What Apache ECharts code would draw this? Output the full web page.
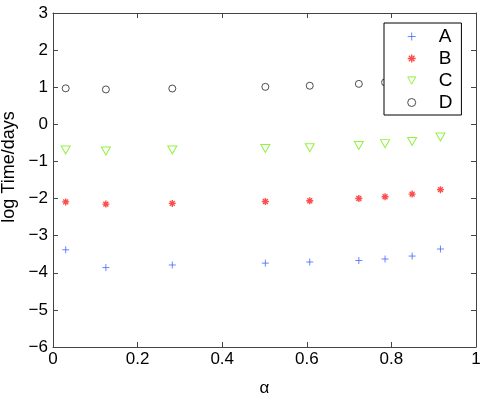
<!DOCTYPE html>
<html>
<head>
<meta charset="utf-8">
<script src="https://cdn.jsdelivr.net/npm/echarts@6/dist/echarts.min.js"></script>
<style>html,body{margin:0;padding:0;background:#fff;}#c{width:485px;height:393px;}</style>
</head>
<body>
<div id="c"></div>
<script>
const alpha = [0.030, 0.125, 0.282, 0.502, 0.607, 0.723, 0.785, 0.849, 0.916];
const seriesA = [-3.38, -3.86, -3.79, -3.74, -3.71, -3.67, -3.63, -3.55, -3.36];
const seriesB = [-2.09, -2.15, -2.13, -2.08, -2.06, -2.00, -1.95, -1.88, -1.76];
const seriesC = [-0.69, -0.72, -0.69, -0.65, -0.63, -0.57, -0.52, -0.46, -0.34];
const seriesD = [0.97, 0.94, 0.965, 1.01, 1.04, 1.09, 1.13, 1.17, 1.22];
const seriesNames = ['A', 'B', 'C', 'D'];
const xTicks = [0, 0.2, 0.4, 0.6, 0.8, 1];
const yTicks = [-6, -5, -4, -3, -2, -1, 0, 1, 2, 3];

const FONT = '"Liberation Sans", Arial, Helvetica, sans-serif';
const plusPath = 'path://M5,0 L5,10 M0,5 L10,5';
const starPath = 'path://M5,0 L5,10 M0,5 L10,5 M1.5,1.5 L8.5,8.5 M8.5,1.5 L1.5,8.5';
const triDownPath = 'path://M0,0 L10,0 L5,9 Z';

function pts(vals){ return alpha.map((x,i)=>[x, vals[i]]); }

const styles = [
  {symbol:plusPath, size:7, item:{color:'rgba(0,0,0,0)', borderColor:'#4466ff', borderWidth:1}},
  {symbol:starPath, size:7, item:{color:'rgba(0,0,0,0)', borderColor:'#ff2020', borderWidth:1.4}},
  {symbol:triDownPath, size:[9,8], item:{color:'#fff', borderColor:'#77ee11', borderWidth:1}},
  {symbol:'circle', size:7, item:{color:'#fff', borderColor:'#222', borderWidth:1}}
];
const values = [seriesA, seriesB, seriesC, seriesD];

const chart = echarts.init(document.getElementById('c'), null, {renderer:'canvas'});
const axisColor = '#444';
const fmtX = v => (v===0||v===1) ? String(v) : v.toFixed(1);
const fmtY = v => v < 0 ? '\u2212' + Math.abs(v) : String(v);

chart.setOption({
  animation:false,
  backgroundColor:'#fff',
  grid:{left:53, right:9, top:13, bottom:46, show:false, containLabel:false, outerBoundsMode:'none'},
  xAxis:[{
    type:'value', min:0, max:1, interval:0.2,
    name:'\u03b1', nameLocation:'middle', nameGap:33,
    nameTextStyle:{fontFamily:FONT, fontSize:17, color:'#000'},
    axisLine:{show:true, onZero:false, lineStyle:{color:axisColor, width:1}},
    axisTick:{show:true, inside:true, length:5, lineStyle:{color:axisColor}},
    axisLabel:{fontFamily:FONT, fontSize:17, color:'#000', margin:4, formatter:fmtX},
    splitLine:{show:false}
  },{
    type:'value', min:0, max:1, interval:0.2, position:'top',
    axisLine:{show:true, onZero:false, lineStyle:{color:axisColor, width:1}},
    axisTick:{show:true, inside:true, length:5, lineStyle:{color:axisColor}},
    axisLabel:{show:false}, splitLine:{show:false}
  }],
  yAxis:[{
    type:'value', min:-6, max:3, interval:1,
    name:'log Time/days', nameLocation:'middle', nameGap:22, nameRotate:90,
    nameTextStyle:{fontFamily:FONT, fontSize:18, color:'#000', padding:[0,0,0,26]},
    axisLine:{show:true, onZero:false, lineStyle:{color:axisColor, width:1}},
    axisTick:{show:true, inside:true, length:5, lineStyle:{color:axisColor}},
    axisLabel:{fontFamily:FONT, fontSize:17, color:'#000', margin:5, formatter:fmtY},
    splitLine:{show:false}
  },{
    type:'value', min:-6, max:3, interval:1, position:'right',
    axisLine:{show:true, onZero:false, lineStyle:{color:axisColor, width:1}},
    axisTick:{show:true, inside:true, length:5, lineStyle:{color:axisColor}},
    axisLabel:{show:false}, splitLine:{show:false}
  }],
  legend:{
    orient:'vertical', left:384, top:23,
    padding:[4, 9, 3, 23], itemGap:3,
    itemWidth:8, itemHeight:8,
    backgroundColor:'#fff', borderColor:'#000', borderWidth:1, borderRadius:0,
    textStyle:{fontFamily:FONT, fontSize:19, color:'#000', padding:[0,0,0,18], lineHeight:19},
    data:seriesNames.map((n,i)=>({name:n, icon:styles[i].symbol, itemStyle:styles[i].item}))
  },
  series:seriesNames.map((n,i)=>({
    name:n, type:'scatter', data:pts(values[i]),
    symbol:styles[i].symbol, symbolSize:styles[i].size,
    itemStyle:styles[i].item
  }))
});
</script>
</body>
</html>
